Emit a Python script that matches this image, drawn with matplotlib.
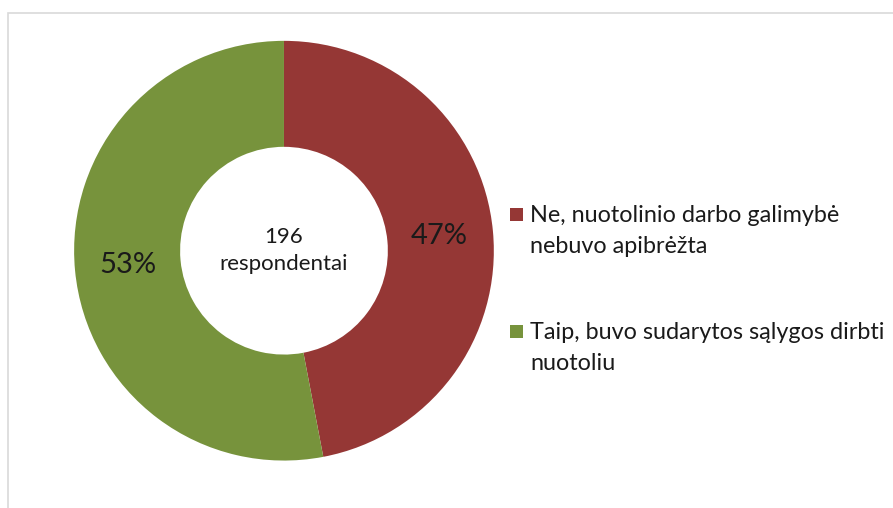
import matplotlib.pyplot as plt
from matplotlib.patches import Rectangle

plt.rcParams['font.family'] = ['Lato', 'DejaVu Sans']

labels = ['Ne, nuotolinio darbo galimybė\nnebuvo apibrėžta',
          'Taip, buvo sudarytos sąlygos dirbti\nnuotoliu']
shares = [47, 53]
colors = ['#953735', '#77933C']
respondents = 196

W, H = 893, 508
fig = plt.figure(figsize=(W / 100, H / 100), dpi=100)

# light frame around the chart area
fig.patches.append(Rectangle((8 / W, -0.1), 1.2, 1 - 13 / H + 0.1,
                             transform=fig.transFigure, fill=False,
                             edgecolor='#d9d9d9', linewidth=1.2))

ax = fig.add_axes([0.083, 0.093, 0.470, 0.827])
wedges, _, autotexts = ax.pie(shares, colors=colors, startangle=90, counterclock=False,
                              autopct=lambda p: f'{round(p)}%', pctdistance=0.745,
                              wedgeprops=dict(width=0.505, edgecolor='none'),
                              textprops=dict(fontsize=21, color='#1a1a1a'))
ax.set_xlim(-1, 1)
ax.set_ylim(-1, 1)
ax.set_aspect('equal')
ax.text(0, 0, f'{respondents}\nrespondentai', ha='center', va='center',
        fontsize=16, color='#1a1a1a', linespacing=1.45)

# legend: square marker level with the first line of each label
for i, (lab, col) in enumerate(zip(labels, colors)):
    y0 = 222 + i * 117          # baseline of first line, pixels from top
    fig.patches.append(Rectangle((510 / W, 1 - (y0 - 1) / H), 13 / W, 13 / H,
                                 transform=fig.transFigure, facecolor=col,
                                 edgecolor='none'))
    for k, line in enumerate(lab.split('\n')):
        fig.text(530 / W, 1 - (y0 + 31 * k) / H, line, ha='left', va='baseline',
                 fontsize=16.8, color='#1a1a1a')

fig.savefig('out.png', dpi=100)
